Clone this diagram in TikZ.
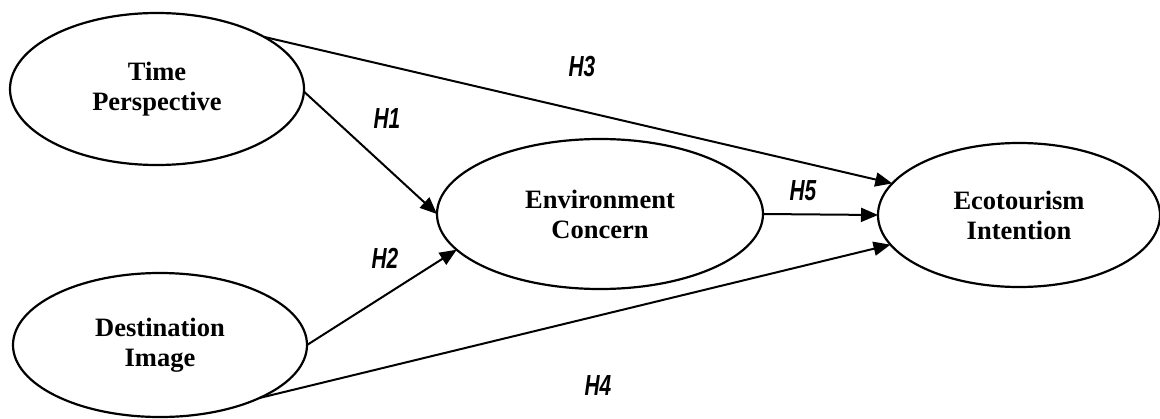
\documentclass[tikz,border=0pt]{standalone}
\usepackage{fontspec}
\setmainfont{Liberation Serif}
\newfontfamily\hypfont{Liberation Sans}
\usetikzlibrary{shapes.geometric,arrows.meta}
\begin{document}
\begin{tikzpicture}[x=1pt,y=-1pt,
  latent/.style={ellipse,draw,line width=2.2pt,inner sep=0pt,outer sep=0pt,align=center,
    font=\fontsize{26.5}{30}\selectfont\bfseries},
  hpath/.style={line width=2pt,-{Triangle[length=17pt,width=14pt]}},
  hyp/.style={font=\fontsize{29}{30}\selectfont\hypfont\bfseries\itshape,inner sep=0pt}]
\useasboundingbox (0,0) rectangle (1160,418);
\node[latent,minimum width=294pt,minimum height=152pt] (tp) at (157,89) {Time\\Perspective};
\node[latent,minimum width=294pt,minimum height=144pt] (di) at (160,345) {Destination\\Image};
\node[latent,minimum width=326pt,minimum height=150pt] (ec) at (600,214) {Environment\\Concern};
\node[latent,minimum width=282pt,minimum height=144pt] (ei) at (1019,215) {Ecotourism\\Intention};
\draw[hpath] (tp.-1) -- (ec.180);
\draw[hpath] (tp.26) -- (ei.166);
\draw[hpath] (di.east) -- (ec.194);
\draw[hpath] (di.-28) -- (ei.193);
\draw[hpath] (ec.east) -- (ei.west);
\node[hyp] (h1) at (387,119) {\scalebox{0.72}[1]{H1}};
\node[hyp] (h2) at (385,258) {\scalebox{0.72}[1]{H2}};
\node[hyp] (h3) at (582,67) {\scalebox{0.72}[1]{H3}};
\node[hyp] (h4) at (598,386) {\scalebox{0.72}[1]{H4}};
\node[hyp] (h5) at (803,191) {\scalebox{0.72}[1]{H5}};
\end{tikzpicture}
\end{document}
